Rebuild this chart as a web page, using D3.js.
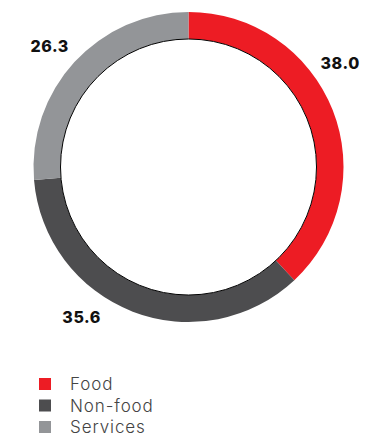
<!DOCTYPE html>
<html>
<head>
<meta charset="utf-8">
<script src="https://cdn.jsdelivr.net/npm/d3@7"></script>
<style>
  body { margin: 0; background: #fff; }
  svg { display: block; }
</style>
</head>
<body>
<script>
const width = 375;
const height = 438;

// data
const categories = ["Food", "Non-food", "Services"];
const values = [38.0, 35.6, 26.3];
const colors = ["#ED1C24", "#4D4D4F", "#939598"];

// where each value label sits (angle in degrees from top, radius)
const labelAngles = [55.5, 215.5, 311];
const labelRadius = 184;

const cx = 188.5, cy = 167;
const outerR = 155, innerR = 128;

const svg = d3.select("body")
	.append("svg")
	.attr("width", width)
	.attr("height", height);

const pie = d3.pie().sort(null).value(d => d);
const arc = d3.arc().innerRadius(innerR).outerRadius(outerR);
const color = d3.scaleOrdinal().domain(categories).range(colors);

const g = svg.append("g").attr("transform", `translate(${cx},${cy})`);

g.selectAll("path.slice")
	.data(pie(values))
	.enter()
	.append("path")
	.attr("class", "slice")
	.attr("d", arc)
	.attr("fill", (d, i) => color(categories[i]));

// thin black line round the hole
g.append("circle")
	.attr("r", innerR)
	.attr("fill", "#fff")
	.attr("stroke", "#000")
	.attr("stroke-width", 1);

g.selectAll("text.val")
	.data(values)
	.enter()
	.append("text")
	.attr("class", "val")
	.attr("x", (d, i) => labelRadius * Math.sin(labelAngles[i] * Math.PI / 180))
	.attr("y", (d, i) => -labelRadius * Math.cos(labelAngles[i] * Math.PI / 180))
	.attr("dy", "0.36em")
	.attr("text-anchor", "middle")
	.style("font-family", "Inter, 'DejaVu Sans', sans-serif")
	.style("font-weight", 800)
	.style("font-size", "16px")
	.style("letter-spacing", "0.6px")
	.attr("fill", "#111")
	.text(d => d.toFixed(1));

// legend
const legendY = d3.scalePoint().domain(categories).range([384, 427]);

const legend = svg.selectAll("g.leg")
	.data(categories)
	.enter()
	.append("g")
	.attr("class", "leg")
	.attr("transform", d => `translate(39,${legendY(d)})`);

legend.append("rect")
	.attr("x", 0)
	.attr("y", -6)
	.attr("width", 12)
	.attr("height", 12)
	.attr("fill", d => color(d));

legend.append("text")
	.attr("x", 31)
	.attr("y", 0)
	.attr("dy", "0.36em")
	.style("font-family", "Inter, 'DejaVu Sans', sans-serif")
	.style("font-weight", 300)
	.style("font-size", "17px")
	.style("letter-spacing", "0.9px")
	.attr("fill", "#444")
	.text(d => d);
</script>
</body>
</html>
